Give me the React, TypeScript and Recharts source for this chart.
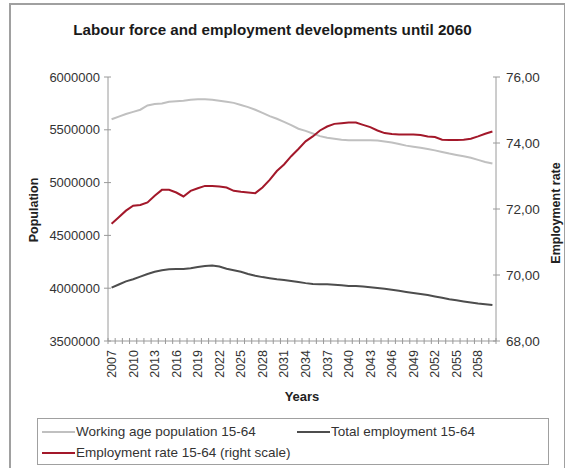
import { LineChart, Line, XAxis, YAxis } from "recharts";

const years = Array.from({ length: 54 }, (_, i) => 2007 + i);
const yearLabels = [2007, 2010, 2013, 2016, 2019, 2022, 2025, 2028, 2031, 2034, 2037, 2040, 2043, 2046, 2049, 2052, 2055, 2058];
const populationTicks = [3500000, 4000000, 4500000, 5000000, 5500000, 6000000];
const rateTicks = [68, 70, 72, 74, 76];

// working age population 15-64
const workingAgePop = [
  5600000, 5625000, 5650000, 5670000, 5690000, 5730000, 5745000, 5750000, 5765000, 5770000,
  5775000, 5785000, 5790000, 5790000, 5785000, 5775000, 5765000, 5755000, 5735000, 5715000,
  5690000, 5660000, 5630000, 5605000, 5575000, 5545000, 5510000, 5490000, 5465000, 5440000,
  5425000, 5415000, 5405000, 5400000, 5400000, 5400000, 5400000, 5398000, 5390000, 5380000,
  5365000, 5350000, 5340000, 5330000, 5318000, 5305000, 5290000, 5275000, 5262000, 5250000,
  5235000, 5215000, 5195000, 5180000,
];

// total employment 15-64
const totalEmployment = [
  4005000, 4035000, 4065000, 4085000, 4110000, 4135000, 4155000, 4170000, 4180000, 4182000,
  4182000, 4190000, 4200000, 4210000, 4215000, 4205000, 4185000, 4170000, 4155000, 4135000,
  4118000, 4105000, 4095000, 4085000, 4078000, 4068000, 4058000, 4048000, 4040000, 4038000,
  4037000, 4032000, 4027000, 4022000, 4020000, 4015000, 4008000, 4002000, 3995000, 3985000,
  3975000, 3965000, 3955000, 3945000, 3935000, 3922000, 3910000, 3895000, 3885000, 3875000,
  3865000, 3855000, 3848000, 3840000,
];

// employment rate 15-64 (right scale)
const employmentRate = [
  71.55, 71.75, 71.95, 72.1, 72.12, 72.2, 72.4, 72.58, 72.58, 72.5,
  72.38, 72.55, 72.63, 72.7, 72.7, 72.68, 72.65, 72.55, 72.52, 72.5,
  72.48, 72.65, 72.88, 73.15, 73.35, 73.6, 73.82, 74.05, 74.2, 74.38,
  74.5, 74.58, 74.6, 74.62, 74.62, 74.55, 74.48, 74.38, 74.3, 74.27,
  74.26, 74.26, 74.26, 74.24, 74.2, 74.18, 74.1, 74.09, 74.09, 74.1,
  74.13, 74.2, 74.28, 74.35,
];

const data = years.map((year, i) => ({
  year,
  workingAge: workingAgePop[i],
  employment: totalEmployment[i],
  rate: employmentRate[i],
}));

// tick marks sit between the years, labels on the years
const boundaries = [...years.map((y) => y - 0.5), years[years.length - 1] + 0.5];
const xTicks = [...boundaries, ...yearLabels].sort((a, b) => a - b);

const FONT = "'Liberation Sans', Arial, sans-serif";
const AXIS = "#9a9a9a";
const TEXT = "#333";

const XTick = ({ x, y, payload }: any) => {
  const v = payload.value;
  if (!Number.isInteger(v)) {
    return <line x1={x} x2={x} y1={y - 3} y2={y + 3} stroke={AXIS} />;
  }
  const ty = y + 9;
  return (
    <text
      x={x}
      y={ty}
      dy="0.35em"
      textAnchor="end"
      transform={`rotate(-90 ${x} ${ty})`}
      fontSize={12.5}
      fontFamily={FONT}
      fill={TEXT}
    >
      {v}
    </text>
  );
};

const LeftTick = ({ x, y, payload }: any) => (
  <g>
    <line x1={x - 4} x2={x + 3} y1={y} y2={y} stroke={AXIS} />
    <text x={x - 8} y={y} dy="0.35em" textAnchor="end" fontSize={13} fontFamily={FONT} fill={TEXT}>
      {payload.value}
    </text>
  </g>
);

const RightTick = ({ x, y, payload }: any) => (
  <g>
    <line x1={x - 3} x2={x + 4} y1={y} y2={y} stroke={AXIS} />
    <text x={x + 10} y={y} dy="0.35em" textAnchor="start" fontSize={13.5} fontFamily={FONT} fill={TEXT}>
      {payload.value.toFixed(2).replace(".", ",")}
    </text>
  </g>
);

const legendItems = [
  { label: "Working age population 15-64", color: "#c0c0c0", left: 42, top: 424 },
  { label: "Total employment 15-64", color: "#4d4d4d", left: 297, top: 424 },
  { label: "Employment rate 15-64 (right scale)", color: "#a3182a", left: 42, top: 445 },
];

export default function App() {
  return (
    <div style={{ position: "absolute", left: 0, top: 0, width: 565, height: 468, background: "#fff", fontFamily: FONT, overflow: "hidden" }}>
      {/* outer frame */}
      <div style={{ position: "absolute", left: 9, top: 3, width: 553, height: 480, border: "2px solid #a0a0a0" }} />

      <div style={{ position: "absolute", left: 0, top: 21, width: 545, textAlign: "center", fontSize: 15.2, fontWeight: "bold", color: "#1a1a1a" }}>
        Labour force and employment developments until 2060
      </div>

      <LineChart width={565} height={468} data={data} margin={{ top: 77, right: 9, bottom: 126, left: 38 }}>
        <XAxis
          dataKey="year"
          type="number"
          domain={[2006.5, 2060.5]}
          ticks={xTicks}
          interval={0}
          tick={<XTick />}
          tickLine={false}
          tickSize={0}
          tickMargin={0}
          height={1}
          axisLine={{ stroke: AXIS }}
        />
        <YAxis
          yAxisId="left"
          domain={[3500000, 6000000]}
          ticks={populationTicks}
          interval={0}
          tick={<LeftTick />}
          tickLine={false}
          tickSize={0}
          tickMargin={0}
          width={70}
          axisLine={{ stroke: AXIS }}
        />
        <YAxis
          yAxisId="right"
          orientation="right"
          domain={[68, 76]}
          ticks={rateTicks}
          interval={0}
          tick={<RightTick />}
          tickLine={false}
          tickSize={0}
          tickMargin={0}
          width={60}
          axisLine={{ stroke: AXIS }}
        />
        <Line yAxisId="left" dataKey="workingAge" stroke="#c0c0c0" strokeWidth={2} dot={false} isAnimationActive={false} />
        <Line yAxisId="left" dataKey="employment" stroke="#4d4d4d" strokeWidth={2} dot={false} isAnimationActive={false} />
        <Line yAxisId="right" dataKey="rate" stroke="#a3182a" strokeWidth={2} dot={false} isAnimationActive={false} />
      </LineChart>

      {/* axis titles */}
      <div style={{ position: "absolute", left: 34, top: 210, transform: "translate(-50%, -50%) rotate(-90deg)", fontSize: 12.5, fontWeight: "bold", color: "#222", whiteSpace: "nowrap" }}>
        Population
      </div>
      <div style={{ position: "absolute", left: 556, top: 213, transform: "translate(-50%, -50%) rotate(-90deg)", fontSize: 12.5, fontWeight: "bold", color: "#222", whiteSpace: "nowrap" }}>
        Employment rate
      </div>
      <div style={{ position: "absolute", left: 302, top: 396, transform: "translate(-50%, -50%)", fontSize: 13, fontWeight: "bold", color: "#222" }}>
        Years
      </div>

      {/* legend */}
      <div style={{ position: "absolute", left: 37, top: 418, width: 510, height: 45, border: "1px solid #a0a0a0" }} />
      {legendItems.map((item) => (
        <div key={item.label} style={{ position: "absolute", left: item.left, top: item.top, display: "flex", alignItems: "center", fontSize: 13.5, color: "#333", whiteSpace: "nowrap" }}>
          <span style={{ display: "inline-block", width: 33, height: 2, background: item.color, marginRight: 1 }} />
          {item.label}
        </div>
      ))}
    </div>
  );
}
